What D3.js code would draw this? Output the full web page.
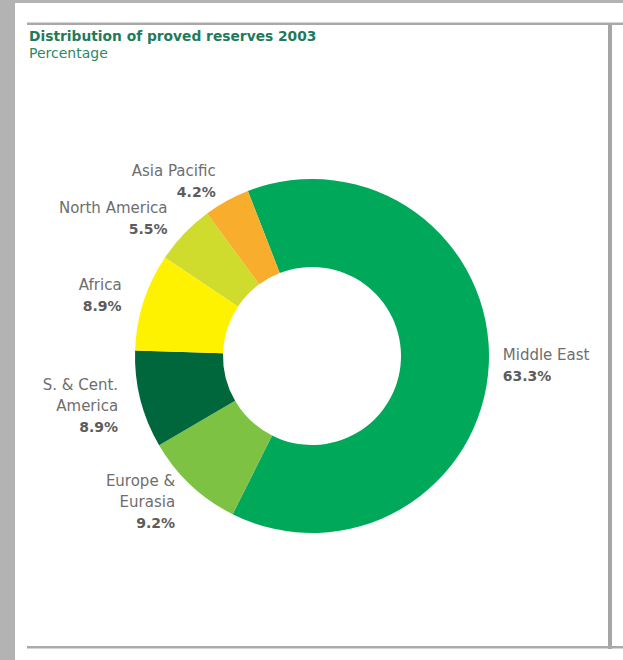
<!DOCTYPE html>
<html>
<head>
<meta charset="utf-8">
<script src="https://cdn.jsdelivr.net/npm/d3@7"></script>
<style>
  html, body { margin: 0; padding: 0; background: #b3b3b3; }
  svg { display: block; }
</style>
</head>
<body>
<svg id="chart" width="623" height="660"></svg>
<script>
// Share of world proved oil reserves by region, 2003 (percent)
const regions = ["Middle East", "Europe & Eurasia", "S. & Cent. America", "Africa", "North America", "Asia Pacific"];
const shares = [63.3, 9.2, 8.9, 8.9, 5.5, 4.2];
// How each region's name is broken over lines in its label
const nameLines = [["Middle East"], ["Europe &", "Eurasia"], ["S. & Cent.", "America"], ["Africa"], ["North America"], ["Asia Pacific"]];
const palette = ["#00a85a", "#7dc243", "#00663b", "#fff200", "#cfdc2e", "#f9ad2d"];

const titleText = "Distribution of proved reserves 2003";
const subtitleText = "Percentage";

const svg = d3.select("#chart");

// page panel and rules
svg.append("rect").attr("x", 15).attr("y", 3).attr("width", 608).attr("height", 657).attr("fill", "#ffffff");
svg.append("rect").attr("x", 27).attr("y", 22.5).attr("width", 596).attr("height", 2.5).attr("fill", "#a9a9a9");
svg.append("rect").attr("x", 608).attr("y", 24).attr("width", 4).attr("height", 625).attr("fill", "#a6a6a6");
svg.append("rect").attr("x", 27).attr("y", 646).attr("width", 596).attr("height", 2.5).attr("fill", "#a9a9a9");

// title block
svg.append("text")
  .attr("x", 29).attr("y", 41)
  .attr("font-family", "'DejaVu Sans', sans-serif")
  .attr("font-weight", "bold")
  .attr("font-size", 13.8)
  .attr("fill", "#1f7a5b")
  .text(titleText);
svg.append("text")
  .attr("x", 29).attr("y", 58)
  .attr("font-family", "'DejaVu Sans', sans-serif")
  .attr("font-size", 14)
  .attr("fill", "#2a8a66")
  .text(subtitleText);

// donut
const cx = 312, cy = 356;
const outerR = 177, innerR = 89;
const a0 = -2 * Math.PI * 0.059; // ring starts just left of 12 o'clock

const color = d3.scaleOrdinal().domain(regions).range(palette);

const pie = d3.pie()
  .sort(null)
  .value(d => d.value)
  .startAngle(a0)
  .endAngle(a0 + 2 * Math.PI);

const data = regions.map((r, i) => ({ region: r, value: shares[i], lines: nameLines[i] }));
const arcs = pie(data);

const arc = d3.arc().innerRadius(innerR).outerRadius(outerR);

const g = svg.append("g").attr("transform", `translate(${cx},${cy})`);

g.selectAll("path.slice")
  .data(arcs)
  .join("path")
  .attr("class", "slice")
  .attr("d", arc)
  .attr("fill", d => color(d.data.region));

// labels: placed outside the ring along each slice's mid angle
const lineGap = 21;
const capH = 11;
g.selectAll("g.label")
  .data(arcs)
  .join("g")
  .attr("class", "label")
  .each(function (d) {
    const mid = (d.startAngle + d.endAngle) / 2;
    const rightSide = Math.sin(mid) > 0;
    const r = rightSide ? outerR + 14 : outerR + 23;
    const x = r * Math.sin(mid);
    const y = -r * Math.cos(mid);
    const lines = d.data.lines.concat([d3.format(".1f")(d.data.value) + "%"]);
    const n = lines.length;
    const first = y - (n - 1) * lineGap / 2 + capH / 2;
    const t = d3.select(this).append("text")
      .attr("text-anchor", rightSide ? "start" : "end")
      .attr("font-family", "'DejaVu Sans', sans-serif");
    lines.forEach((s, i) => {
      const isValue = i === n - 1;
      t.append("tspan")
        .attr("x", x)
        .attr("y", first + i * lineGap)
        .attr("font-size", isValue ? 14 : 15)
        .attr("font-weight", isValue ? "bold" : "normal")
        .attr("fill", isValue ? "#5c5c5c" : "#6e6e6e")
        .text(s);
    });
  });
</script>
</body>
</html>
